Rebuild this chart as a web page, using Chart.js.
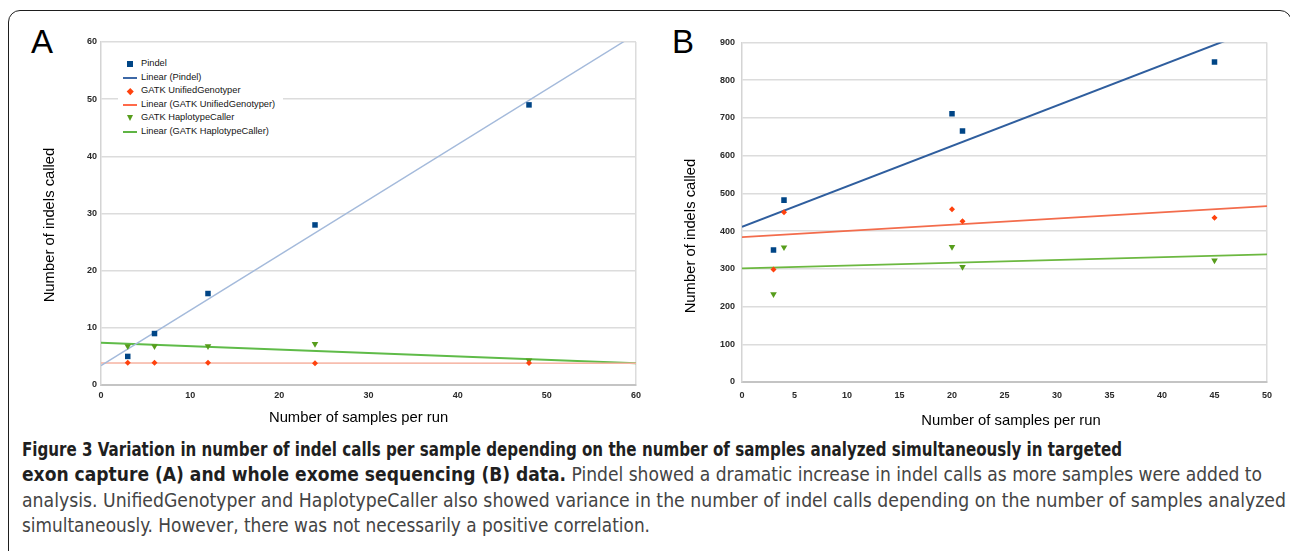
<!DOCTYPE html>
<html>
<head>
<meta charset="utf-8">
<script src="https://cdn.jsdelivr.net/npm/chart.js@4.4.1/dist/chart.umd.min.js"></script>
<style>
  html, body { margin: 0; padding: 0; background: #fff; width: 1290px; height: 551px; overflow: hidden; font-family: "Liberation Sans", Arial, sans-serif; }
  #frame { position: absolute; left: 8px; top: 10px; width: 1284px; height: 620px; border: 1.6px solid #1e1e1e; border-radius: 12px; box-sizing: border-box; }
  .panel { position: absolute; font-size: 33px; line-height: 33px; color: #000; font-family: "Liberation Sans", Arial, sans-serif; }
  .wrap { position: absolute; }
  #legendA { position: absolute; left: 118px; top: 57px; width: 165px; height: 84px; background: #fff; font-size: 9.3px; color: #151515; }
  .lrow { position: relative; height: 13.5px; line-height: 13.5px; white-space: nowrap; }
  .lsym { position: absolute; left: 5px; top: 0; width: 14px; height: 13.5px; }
  .ltxt { position: absolute; left: 23px; top: 0; }
  .sq { position: absolute; left: 4px; top: 4px; width: 6px; height: 6px; }
  .ln { position: absolute; left: 0; top: 6px; width: 14px; height: 2px; }
  .dm { position: absolute; left: 4.5px; top: 4.5px; width: 4.5px; height: 4.5px; transform: rotate(45deg); }
  .tr { position: absolute; left: 3.5px; top: 4px; width: 0; height: 0; border-left: 3.5px solid transparent; border-right: 3.5px solid transparent; border-top: 6px solid; }
  #caption { position: absolute; left: 22px; top: 437px; font-family: "Liberation Sans Narrow", "DejaVu Sans Condensed", "Liberation Sans", sans-serif; font-size: 20px; }
  .cline { height: 25.3px; line-height: 25.3px; white-space: nowrap; }
  .cline span.inner { display: inline-block; transform-origin: 0 50%; }
  .cb { font-weight: bold; color: #1f1f1f; }
  .cn { font-weight: normal; color: #444; }
</style>
</head>
<body>
<div id="frame"></div>
<div class="panel" style="left:31px;top:25px;">A</div>
<div class="panel" style="left:672px;top:25px;">B</div>
<div class="wrap" style="left:20px;top:30px;width:640px;height:400px;"><canvas id="chartA" width="640" height="400"></canvas></div>
<div class="wrap" style="left:660px;top:30px;width:630px;height:400px;"><canvas id="chartB" width="630" height="400"></canvas></div>
<div id="legendA"></div>
<div id="caption"></div>
<script>
// ---------------- DATA ----------------
const seriesNames = ['Pindel', 'Linear (Pindel)', 'GATK UnifiedGenotyper', 'Linear (GATK UnifiedGenotyper)', 'GATK HaplotypeCaller', 'Linear (GATK HaplotypeCaller)'];
const xTitle = 'Number of samples per run';
const yTitle = 'Number of indels called';

// Panel A: targeted exon capture
const samplesA = [3, 6, 12, 24, 48];
const pindelA = [5, 9, 16, 28, 49];
const unifiedA = [3.9, 3.9, 3.9, 3.8, 3.85];
const haplotypeA = [6.8, 6.8, 6.8, 7.2, 4.3];
const trendXA = [0, 60];
const pindelTrendA = [3.4, 61.4];
const unifiedTrendA = [3.85, 3.8];
const haplotypeTrendA = [7.4, 3.8];
const xTicksA = [0, 10, 20, 30, 40, 50, 60];
const yTicksA = [0, 10, 20, 30, 40, 50, 60];

// Panel B: whole exome sequencing
const samplesB = [3, 4, 20, 21, 45];
const pindelB = [350, 482, 711, 665, 848];
const unifiedB = [298, 450, 458, 426, 435];
const haplotypeB = [233, 357, 358, 305, 322];
const trendXB = [0, 50];
const pindelTrendB = [411, 947];
const unifiedTrendB = [384, 466];
const haplotypeTrendB = [301, 338];
const xTicksB = [0, 5, 10, 15, 20, 25, 30, 35, 40, 45, 50];
const yTicksB = [0, 100, 200, 300, 400, 500, 600, 700, 800, 900];

const captionLines = [
  [['b', 'Figure 3 Variation in number of indel calls per sample depending on the number of samples analyzed simultaneously in targeted']],
  [['b', 'exon capture (A) and whole exome sequencing (B) data.'], ['n', ' Pindel showed a dramatic increase in indel calls as more samples were added to']],
  [['n', 'analysis. UnifiedGenotyper and HaplotypeCaller also showed variance in the number of indel calls depending on the number of samples analyzed']],
  [['n', 'simultaneously. However, there was not necessarily a positive correlation.']]
];

// ---------------- STYLE ----------------
const FONT = "'Liberation Sans', Arial, sans-serif";
const COL = {
  pindel: '#004586', unified: '#ff420e', haplo: '#579d1c',
  grid: '#dcdcdc'
};
const captionWidths = [1100, 1240, 1264, 628];

const pts = (xs, ys) => xs.map((x, i) => ({ x: x, y: ys[i] }));

const axisTitles = {
  id: 'axisTitles',
  afterDraw(chart, args, o) {
    const c = chart.ctx;
    c.save();
    c.font = '14.8px ' + FONT;
    c.fillStyle = '#000';
    c.textAlign = 'center';
    c.textBaseline = 'middle';
    c.fillText(o.xText, o.xPos[0], o.xPos[1]);
    c.translate(o.yPos[0], o.yPos[1]);
    c.rotate(-Math.PI / 2);
    c.fillText(o.yText, 0, 0);
    c.restore();
  }
};

function makeChart(id, d, s) {
  const datasets = [
    { label: seriesNames[0], data: pts(d.xs, d.pindel), pointStyle: 'rect', pointRadius: 3.9, backgroundColor: COL.pindel, borderWidth: 0 },
    { label: seriesNames[2], data: pts(d.xs, d.unified), pointStyle: 'rectRot', pointRadius: 3, backgroundColor: COL.unified, borderWidth: 0 },
    { label: seriesNames[4], data: pts(d.xs, d.haplo), pointStyle: 'triangle', pointRotation: 180, pointRadius: 3.8, backgroundColor: COL.haplo, borderWidth: 0 },
    { label: seriesNames[1], data: pts(d.tx, d.pindelT), showLine: true, pointRadius: 0, borderColor: s.lineCol[0], borderWidth: s.lineW[0] },
    { label: seriesNames[3], data: pts(d.tx, d.unifiedT), showLine: true, pointRadius: 0, borderColor: s.lineCol[1], borderWidth: s.lineW[1] },
    { label: seriesNames[5], data: pts(d.tx, d.haploT), showLine: true, pointRadius: 0, borderColor: s.lineCol[2], borderWidth: s.lineW[2] }
  ];
  const xMax = d.xTicks[d.xTicks.length - 1];
  const tickFont = { family: FONT, size: 9, weight: 'bold' };
  return new Chart(document.getElementById(id), {
    type: 'scatter',
    data: { datasets: datasets },
    options: {
      responsive: false, animation: false, devicePixelRatio: 1,
      layout: { padding: { left: 0, top: s.padTop, right: s.padRight, bottom: 0 } },
      plugins: {
        legend: { display: false }, tooltip: { enabled: false },
        axisTitles: { xText: xTitle, yText: yTitle, xPos: s.xTitlePos, yPos: s.yTitlePos }
      },
      scales: {
        x: {
          type: 'linear', min: d.xTicks[0], max: xMax,
          afterBuildTicks: sc => { sc.ticks = d.xTicks.map(v => ({ value: v })); },
          afterFit: sc => { sc.height = s.xAxisH; },
          grid: { drawTicks: false, lineWidth: 1.5, color: c => (c.tick && c.tick.value === xMax) ? COL.grid : 'rgba(0,0,0,0)' },
          border: { display: true, color: '#c4c4c4', width: 2 },
          ticks: { padding: s.xTickPad, color: '#2a2a2a', font: tickFont, maxRotation: 0, callback: v => String(v) }
        },
        y: {
          type: 'linear', min: d.yTicks[0], max: d.yTicks[d.yTicks.length - 1],
          afterBuildTicks: sc => { sc.ticks = d.yTicks.map(v => ({ value: v })); },
          afterFit: sc => { sc.width = s.yAxisW; },
          grid: { drawTicks: false, lineWidth: 1.5, color: COL.grid },
          border: { display: true, color: '#d4d4d4', width: 1.5 },
          ticks: { padding: s.yTickPad, color: '#2a2a2a', font: tickFont, callback: v => String(v) }
        }
      }
    },
    plugins: [axisTitles]
  });
}

makeChart('chartA',
  { xs: samplesA, pindel: pindelA, unified: unifiedA, haplo: haplotypeA, tx: trendXA, pindelT: pindelTrendA, unifiedT: unifiedTrendA, haploT: haplotypeTrendA, xTicks: xTicksA, yTicks: yTicksA },
  { padTop: 12, padRight: 24, xAxisH: 45, yAxisW: 81, xTickPad: 5, yTickPad: 4,
    lineCol: ['#a4badb', '#f6b3a2', '#5fbb48'], lineW: [1.4, 1.6, 2],
    xTitlePos: [338.6, 387.7], yTitlePos: [30, 195] });

makeChart('chartB',
  { xs: samplesB, pindel: pindelB, unified: unifiedB, haplo: haplotypeB, tx: trendXB, pindelT: pindelTrendB, unifiedT: unifiedTrendB, haploT: haplotypeTrendB, xTicks: xTicksB, yTicks: yTicksB },
  { padTop: 12, padRight: 23, xAxisH: 48, yAxisW: 82, xTickPad: 8, yTickPad: 7,
    lineCol: ['#2f5e9e', '#f36c4c', '#6cb840'], lineW: [2, 1.8, 1.8],
    xTitlePos: [351, 390.7], yTitlePos: [31, 206] });

// ---------------- LEGEND (panel A) ----------------
const legendSymbols = [
  ['sq', COL.pindel], ['ln', '#3d68a6'], ['dm', COL.unified], ['ln', '#ff6a4a'], ['tr', COL.haplo], ['ln', '#5fb444']
];
const lg = document.getElementById('legendA');
seriesNames.forEach((name, i) => {
  const row = document.createElement('div'); row.className = 'lrow';
  const sym = document.createElement('div'); sym.className = 'lsym';
  const mk = document.createElement('div'); mk.className = legendSymbols[i][0];
  if (legendSymbols[i][0] === 'tr') mk.style.borderTopColor = legendSymbols[i][1];
  else mk.style.background = legendSymbols[i][1];
  sym.appendChild(mk);
  const tx = document.createElement('div'); tx.className = 'ltxt'; tx.textContent = name;
  row.appendChild(sym); row.appendChild(tx); lg.appendChild(row);
});

// ---------------- CAPTION ----------------
const cap = document.getElementById('caption');
captionLines.forEach((parts, i) => {
  const line = document.createElement('div'); line.className = 'cline';
  const inner = document.createElement('span'); inner.className = 'inner';
  parts.forEach(p => {
    const sp = document.createElement('span'); sp.className = p[0] === 'b' ? 'cb' : 'cn'; sp.textContent = p[1];
    inner.appendChild(sp);
  });
  line.appendChild(inner); cap.appendChild(line);
  const w = inner.getBoundingClientRect().width;
  if (w > 0) inner.style.transform = 'scaleX(' + (captionWidths[i] / w) + ')';
});
</script>
</body>
</html>
